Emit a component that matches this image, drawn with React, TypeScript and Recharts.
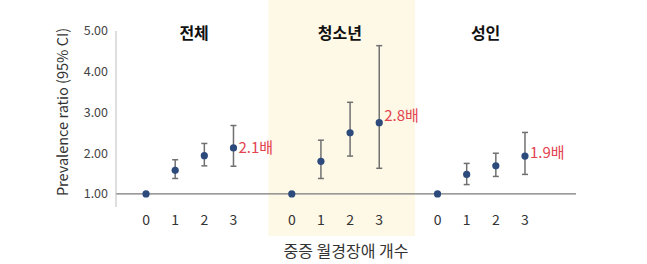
import React from 'react'
import {
  ComposedChart,
  Scatter,
  ErrorBar,
  XAxis,
  YAxis,
  ReferenceLine,
  ReferenceArea,
  ReferenceDot,
  Label,
} from 'recharts'

// 그룹 / 중증 월경장애 개수
const groups = ['전체', '청소년', '성인']
const counts = ['0', '1', '2', '3']

// prevalence ratio and 95% CI per group (0,1,2,3)
const totalPR = [1.0, 1.58, 1.94, 2.13]
const totalLow = [1.0, 1.38, 1.69, 1.68]
const totalHigh = [1.0, 1.84, 2.24, 2.68]

const teenPR = [1.0, 1.8, 2.5, 2.75]
const teenLow = [1.0, 1.38, 1.93, 1.63]
const teenHigh = [1.0, 2.32, 3.25, 4.64]

const adultPR = [1.0, 1.48, 1.69, 1.93]
const adultLow = [1.0, 1.23, 1.43, 1.48]
const adultHigh = [1.0, 1.75, 2.0, 2.51]

const ratioLabels = ['2.1배', '2.8배', '1.9배']
const yTicks = [1, 2, 3, 4, 5]

const series = [
  { pr: totalPR, low: totalLow, high: totalHigh },
  { pr: teenPR, low: teenLow, high: teenHigh },
  { pr: adultPR, low: adultLow, high: adultHigh },
]

const SLOTS_PER_GROUP = counts.length + 1
const slotOf = (g: number, i: number) => g * SLOTS_PER_GROUP + i

const refPoints: any[] = []
const ciPoints: any[] = []
series.forEach((s, g) => {
  s.pr.forEach((v, i) => {
    const pt = { x: slotOf(g, i), y: v, err: [v - s.low[i], s.high[i] - v] }
    if (i === 0) refPoints.push(pt)
    else ciPoints.push(pt)
  })
})

const xTicks = groups.flatMap((_, g) => counts.map((_, i) => slotOf(g, i)))

const FONT = '"Noto Sans CJK KR", "Noto Sans", sans-serif'
const NAVY = '#2d4a7c'
const RED = '#e2434f'
const labelDy = [0, -7, -3]

const Dot = (p: any) => <circle cx={p.cx} cy={p.cy} r={3.6} fill={NAVY} />

export default function App() {
  return (
    <div style={{ position: 'absolute', left: 0, top: 0, background: '#fff', fontFamily: FONT }}>
      <ComposedChart width={647} height={264} margin={{ top: 31, right: 71, bottom: 0, left: 0 }}>
        <XAxis
          type="number"
          dataKey="x"
          domain={[-1.03, 14.75]}
          ticks={xTicks}
          tickFormatter={(v: number) => counts[v % SLOTS_PER_GROUP]}
          axisLine={false}
          tickLine={false}
          height={57}
          tick={{ fontSize: 14, fill: '#333', fontFamily: FONT }}
          allowDataOverflow
        >
          <Label value="중증 월경장애 개수" position="insideBottom" offset={7} style={{ fontSize: 16, fill: '#333', fontFamily: FONT }} />
        </XAxis>
        <YAxis
          type="number"
          dataKey="y"
          domain={[0.68, 5]}
          ticks={yTicks}
          tickFormatter={(v: number) => v.toFixed(2)}
          width={116}
          axisLine={{ stroke: '#bdbdbd' }}
          tickLine={false}
          tick={{ fontSize: 12.5, fill: '#444', fontFamily: FONT }}
          allowDataOverflow
        >
          <Label
            value="Prevalence ratio (95% CI)"
            angle={-90}
            position="center"
            dx={5}
            dy={-7}
            style={{ fontSize: 14.5, fill: '#333', fontFamily: FONT, textAnchor: 'middle' }}
          />
        </YAxis>

        <ReferenceArea
          x1={slotOf(1, 0) - 0.8}
          x2={slotOf(1, 3) + 1.23}
          y1={-0.03}
          y2={5.8}
          fill="#fef8e6"
          fillOpacity={1}
          stroke="none"
          ifOverflow="visible"
        />
        <ReferenceLine y={1} stroke="#7a7a7a" strokeWidth={1.2} />

        {groups.map((name, g) => (
          <ReferenceDot
            key={name}
            x={slotOf(g, 1.65)}
            y={5}
            r={0}
            stroke="none"
            ifOverflow="visible"
            label={{ value: name, position: 'center', dy: 2, style: { fontSize: 16, fontWeight: 700, fill: '#111', fontFamily: FONT } }}
          />
        ))}

        <Scatter data={refPoints} dataKey="y" isAnimationActive={false} shape={Dot} />
        <Scatter data={ciPoints} dataKey="y" isAnimationActive={false} shape={Dot}>
          <ErrorBar dataKey="err" direction="y" width={3} stroke="#707070" strokeWidth={1.5} />
        </Scatter>

        {series.map((s, g) => (
          <ReferenceDot
            key={ratioLabels[g]}
            x={slotOf(g, 3)}
            y={s.pr[3]}
            r={0}
            stroke="none"
            ifOverflow="visible"
            label={{ value: ratioLabels[g], position: 'right', offset: 5, dy: labelDy[g], style: { fontSize: 15, fill: RED, fontFamily: FONT } }}
          />
        ))}
      </ComposedChart>
    </div>
  )
}
